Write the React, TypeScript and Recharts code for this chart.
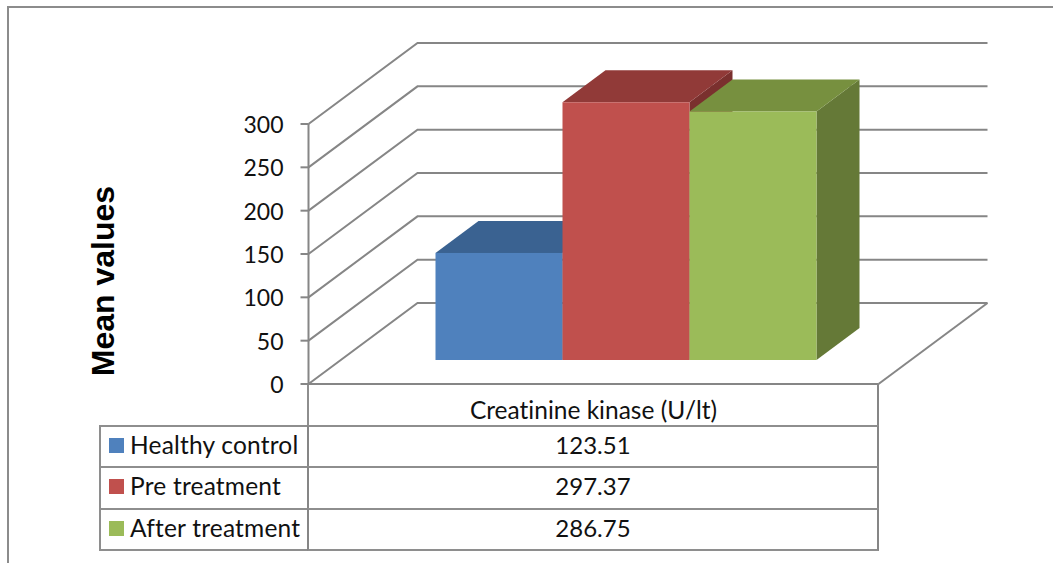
import { BarChart, Bar, XAxis, YAxis, CartesianGrid } from "recharts"

const categories = ["Creatinine kinase (U/lt)"]
const seriesNames = ["Healthy control", "Pre treatment", "After treatment"]
const seriesValues = [[123.51], [297.37], [286.75]]
const seriesLabels = ["123.51", "297.37", "286.75"]
const yTicks = [0, 50, 100, 150, 200, 250, 300]

const frontColors = ["#4F81BD", "#C0504D", "#9BBB59"]
const topColors = ["#3A6291", "#913A38", "#77903F"]
const sideColors = ["#325680", "#7A302E", "#657937"]

const chartData = categories.map((category, i) => {
  const row: Record<string, string | number> = { category }
  seriesNames.forEach((name, s) => {
    row[name] = seriesValues[s][i]
  })
  return row
})

const GRID = "#868686"
const TABLE_LINE = "#8e8e8e"
const FONT = "Lato, 'Noto Sans', sans-serif"
// oblique offset of the back wall
const WALL_DX = 109
const WALL_DY = -81
// bars stand a little way into the floor, and have this depth
const BAR_DX = 32
const BAR_DY = -24
const DEPTH_DX = 43
const DEPTH_DY = -32

// draws one wall line: up the left side, then along the back
const renderWallLine = (props: any) => {
  const { x1, x2, y1, key } = props
  const isFloor = y1 >= props.y + props.height - 0.5
  return (
    <g key={key}>
      <polyline
        points={`${x1},${y1} ${x1 + WALL_DX},${y1 + WALL_DY} ${x2 + WALL_DX},${y1 + WALL_DY}`}
        fill="none"
        stroke={GRID}
        strokeWidth={2}
      />
      {isFloor && (
        <line x1={x2} y1={y1} x2={x2 + WALL_DX} y2={y1 + WALL_DY} stroke={GRID} strokeWidth={2} />
      )}
    </g>
  )
}

const makeBox = (index: number) => (props: any) => {
  const { x, y, width, height } = props
  const left = x + BAR_DX
  const right = left + width
  const top = y + BAR_DY
  const bottom = top + height
  return (
    <g>
      <polygon
        points={`${right},${top} ${right + DEPTH_DX},${top + DEPTH_DY} ${right + DEPTH_DX},${bottom + DEPTH_DY} ${right},${bottom}`}
        fill={sideColors[index]}
      />
      <polygon
        points={`${left},${top} ${left + DEPTH_DX},${top + DEPTH_DY} ${right + DEPTH_DX},${top + DEPTH_DY} ${right},${top}`}
        fill={topColors[index]}
      />
      <rect x={left} y={top} width={width} height={height} fill={frontColors[index]} />
    </g>
  )
}

const cellStyle = {
  position: "absolute",
  boxSizing: "border-box",
  fontFamily: FONT,
  fontSize: 24.5,
  fontVariantLigatures: "none",
  color: "#111",
  whiteSpace: "nowrap",
} as const

// data table under the plot, one row per series
function DataTable() {
  return (
    <>
      <div
        style={{
          ...cellStyle,
          left: 307,
          top: 384,
          width: 572,
          height: 43,
          borderLeft: `2px solid ${TABLE_LINE}`,
          borderRight: `2px solid ${GRID}`,
        }}
      />
      {seriesNames.map((name, s) => {
        const top = 425 + s * 41.4
        const height = s === 2 ? 43.4 : 42.4
        return (
          <div key={name}>
            <div
              style={{
                ...cellStyle,
                left: 99,
                top,
                width: 210,
                height,
                borderLeft: `2px solid ${TABLE_LINE}`,
                borderTop: `2px solid ${TABLE_LINE}`,
                borderBottom: s === 2 ? `2px solid ${TABLE_LINE}` : undefined,
                lineHeight: "36px",
                paddingLeft: 29,
                letterSpacing: 0.2,
              }}
            >
              <span
                style={{
                  position: "absolute",
                  left: 8,
                  top: 11,
                  width: 15,
                  height: 15,
                  background: frontColors[s],
                }}
              />
              {name}
            </div>
            <div
              style={{
                ...cellStyle,
                left: 307,
                top,
                width: 572,
                height,
                borderLeft: `2px solid ${GRID}`,
                borderRight: `2px solid ${GRID}`,
                borderTop: `2px solid ${TABLE_LINE}`,
                borderBottom: s === 2 ? `2px solid ${TABLE_LINE}` : undefined,
                lineHeight: "36px",
                textAlign: "center",
                fontSize: 24,
              }}
            >
              {seriesLabels[s]}
            </div>
          </div>
        )
      })}
    </>
  )
}

export default function App() {
  return (
    <div
      style={{
        position: "absolute",
        left: 0,
        top: 0,
        width: 1053,
        height: 563,
        overflow: "hidden",
        background: "#fff",
      }}
    >
      <div
        style={{
          position: "absolute",
          left: 7,
          top: 6,
          width: 1100,
          height: 700,
          border: "2px solid #8c8c8c",
          boxSizing: "border-box",
        }}
      />
      <DataTable />
      <BarChart
        width={1053}
        height={563}
        data={chartData}
        margin={{ top: 124, right: 174.5, bottom: 0, left: 0 }}
        barSize={127}
        barGap={0}
        style={{ position: "absolute", left: 0, top: 0 }}
      >
        <CartesianGrid vertical={false} horizontal={renderWallLine} />
        <XAxis
          dataKey="category"
          height={179}
          tickLine={false}
          stroke={GRID}
          strokeWidth={2}
          tickMargin={12}
          tick={{ fill: "#111", fontFamily: FONT, fontSize: 24.5, style: { fontVariantLigatures: "none" } }}
        />
        <YAxis
          width={308.5}
          domain={[0, 300]}
          ticks={yTicks}
          interval={0}
          tickSize={8}
          tickMargin={17}
          stroke={GRID}
          strokeWidth={2}
          tick={{ fill: "#111", fontFamily: FONT, fontSize: 23, dy: 1 }}
          label={{
            value: "Mean values",
            angle: -90,
            position: "insideLeft",
            dx: 98,
            dy: 27,
            fill: "#000",
            style: { fontFamily: "'Liberation Sans', Arial, sans-serif", fontSize: 32, fontWeight: 700, textAnchor: "middle" },
          }}
        />
        {seriesNames.map((name, s) => (
          <Bar key={name} dataKey={name} shape={makeBox(s)} isAnimationActive={false} />
        ))}
      </BarChart>
    </div>
  )
}
